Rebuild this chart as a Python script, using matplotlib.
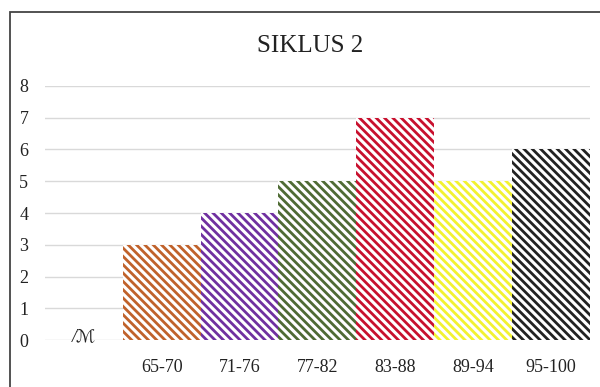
import matplotlib
matplotlib.use("Agg")
import matplotlib.pyplot as plt
from matplotlib.patches import Rectangle

categories = ["", "65-70", "71-76", "77-82", "83-88", "89-94", "95-100"]
values = [0, 3, 4, 5, 7, 5, 6]
colors = ["none", "#c0622b", "#7030a0", "#4f6b34", "#c8102e", "#f2f230", "#222222"]
title = "SIKLUS 2"

plt.rcParams['font.family'] = ['Liberation Serif', 'DejaVu Serif']
plt.rcParams['hatch.linewidth'] = 2.0

fig = plt.figure(figsize=(6, 3.87), dpi=100)
ax = fig.add_axes([0.075, 0.1214, 0.908, 0.6564])

hatch = chr(92) * 4  # backslash hatch, dense diagonal stripes
x = list(range(len(categories)))
for i in x:
    if values[i] == 0:
        continue
    ax.bar(i, values[i], width=1.0, color="white", edgecolor=colors[i],
           linewidth=0, hatch=hatch, zorder=3)

ax.set_xlim(-0.5, len(categories) - 0.5)
ax.set_ylim(0, 8)
ax.set_yticks(range(0, 9))
ax.set_xticks(x)
ax.set_xticklabels(categories)
ax.tick_params(axis="both", length=0, labelsize=13, colors="#222222")
ax.tick_params(axis="y", pad=12)
ax.tick_params(axis="x", pad=14)
ax.grid(axis="y", color="#d9d9d9", linewidth=1, zorder=0)
for s in ax.spines.values():
    s.set_visible(False)

# axis break mark
ax.text(0, 0.12, "/\u2133", ha="center", va="center", fontsize=13,
        style="italic", color="#222222", zorder=4,
        family=['Liberation Serif', 'DejaVu Sans'])

fig.text(0.517, 0.88, title, ha="center", va="center", fontsize=18, color="#222222")

fig.patches.append(Rectangle((10 / 600, -0.1), 1.2, 1.1 - 12 / 387,
                             transform=fig.transFigure, fill=False,
                             edgecolor="#444444", linewidth=1.3))

fig.savefig("out.png", dpi=100)
